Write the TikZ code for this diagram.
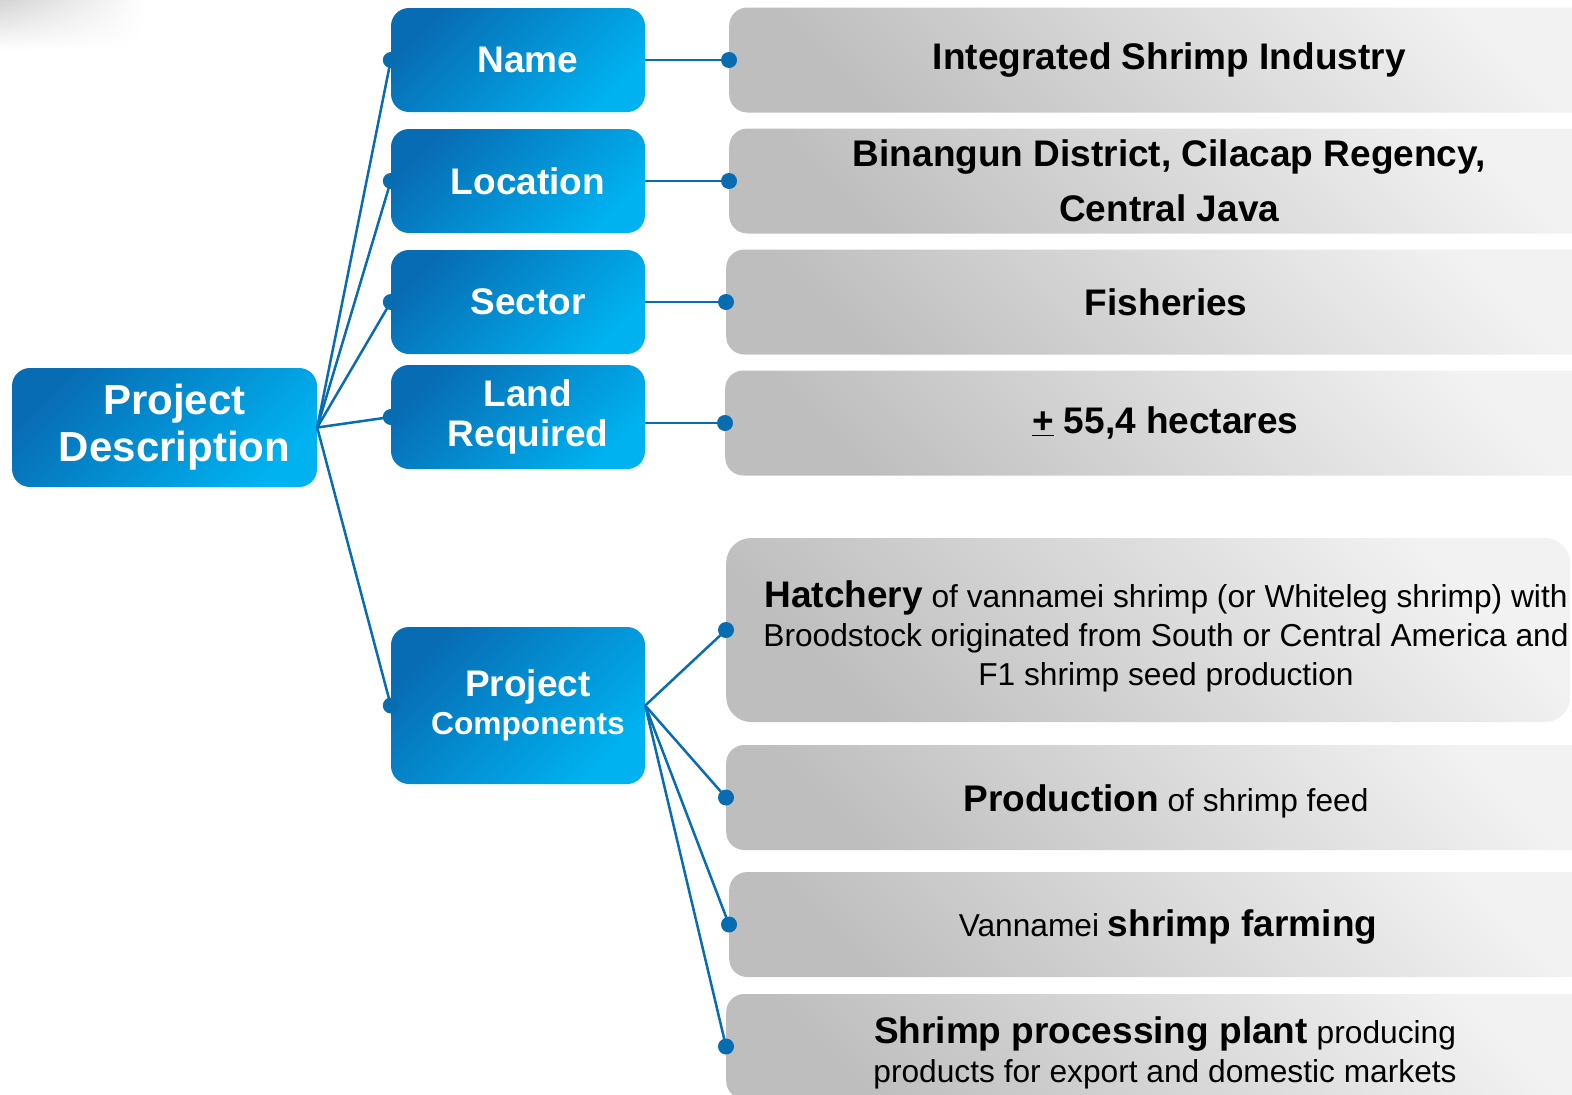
\documentclass[tikz,border=0pt]{standalone}
\usepackage{fontspec}
\setmainfont{Liberation Sans}
\usepackage{tikz}
\usetikzlibrary{fadings}

\definecolor{bluedark}{RGB}{8,108,180}
\definecolor{bluelight}{RGB}{0,178,240}
\definecolor{linkblue}{RGB}{8,108,176}
\definecolor{graydark}{RGB}{190,190,190}
\definecolor{graylight}{RGB}{242,242,242}

\newcommand{\keyterm}[1]{{\bfseries\fontsize{37}{39}\selectfont #1}}
\newcommand{\lpad}{\hspace*{20pt}}

\tikzset{
  bluebox/.style={rounded corners=18pt, top color=bluedark, bottom color=bluelight, shading angle=45,
    text=white, align=center, inner sep=0pt, minimum width=254, minimum height=104,
    font=\bfseries\fontsize{37}{40}\selectfont},
  graybox/.style={rounded corners=18pt, top color=graylight, bottom color=graydark, shading angle=-45,
    anchor=west, align=center, inner sep=0pt, minimum width=880, minimum height=105,
    font=\bfseries\fontsize{37}{39}\selectfont},
  plaintext/.style={align=center, inner sep=0pt, font=\fontsize{31.7}{39}\selectfont},
  link/.style={draw=linkblue, line width=2.5pt}
}

\begin{document}
\begin{tikzpicture}[x=1pt, y=-1pt]
      \useasboundingbox (0,0) rectangle (1572,1095);
      \shade[left color=black!17, right color=white, path fading=south] (0,0) rectangle (145,50);

      \node[bluebox, minimum width=305, minimum height=119, font=\bfseries\fontsize{42}{47}\selectfont] (desc) at (164.5,427.5) {\lpad Project\\\lpad Description};

      \node[bluebox] (name) at (518,60) {\lpad Name};
      \node[bluebox] (loc) at (518,181) {\lpad Location};
      \node[bluebox] (sector) at (518,302) {\lpad Sector};
      \node[bluebox] (land) at (518,417) {\lpad Land\\\lpad Required};
      \node[bluebox, minimum height=157, font=\bfseries\fontsize{37}{38}\selectfont] (comp) at (518,705.5) {\lpad Project\\\lpad{\fontsize{31.7}{38}\selectfont Components}};

      \node[graybox] (nameval) at (729,60) {Integrated Shrimp Industry};
      \node[graybox, font=\bfseries\fontsize{37}{55}\selectfont] (locval) at (729,181) {Binangun District, Cilacap Regency,\\Central Java};
      \node[graybox] (sectval) at (726,302) {Fisheries};
      \node[graybox] (landval) at (725,423) {\underline{+} 55,4 hectares};

      \node[graybox, rounded corners=25pt, minimum width=844, minimum height=184] (hatch) at (726,630) {};
      \node[graybox] (prod) at (726,797.5) {};
      \node[graybox] (farm) at (729,924.5) {};
      \node[graybox] (proc) at (726,1046.5) {};
      \node[plaintext] (hatchtext) at (1166,636) {\keyterm{Hatchery} of vannamei shrimp (or Whiteleg shrimp) with\\Broodstock originated from South or Central America and\\F1 shrimp seed production};
      \node[plaintext] (prodtext) at (1166,801) {\keyterm{Production} of shrimp feed};
      \node[plaintext] (farmtext) at (1168,927) {Vannamei \keyterm{shrimp farming}};
      \node[plaintext] (proctext) at (1165,1053) {\keyterm{Shrimp processing plant} producing\\products for export and domestic markets};

      \foreach \n in {name,loc,sector,land,comp}
        \draw[link] (desc.east) -- (\n.west);
      \draw[link] (name) -- (nameval);
      \draw[link] (loc) -- (locval);
      \draw[link] (sector) -- (sectval);
      \draw[link] (land.east |- landval.west) -- (landval.west);
      \foreach \n in {hatch,prod,farm,proc}
        \draw[link] (comp.east) -- (\n.west);

      \foreach \n in {name,loc,sector,land,comp,nameval,locval,sectval,landval,hatch,prod,farm,proc}
        \fill[linkblue] (\n.west) circle (8);
\end{tikzpicture}
\end{document}
